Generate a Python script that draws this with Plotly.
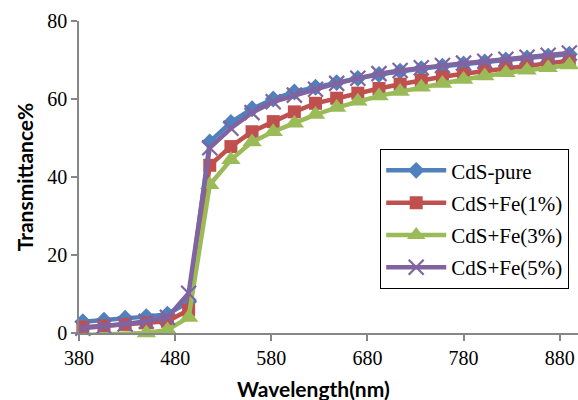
import plotly.graph_objects as go

wavelength = [384, 406, 428, 450, 472, 494, 516, 538, 560, 582, 604, 626,
              648, 670, 692, 714, 736, 758, 780, 802, 824, 846, 868, 890]
cds_pure = [2.9, 3.3, 3.8, 4.2, 4.8, 8.0, 49.0, 54.0, 57.5, 60.0, 61.8, 63.0,
            64.2, 65.3, 66.3, 67.1, 67.8, 68.4, 69.0, 69.5, 70.0, 70.5, 71.0, 71.5]
cds_fe1 = [1.5, 1.8, 2.2, 2.6, 3.0, 5.9, 43.0, 47.8, 51.6, 54.2, 56.7, 58.9,
           60.2, 61.5, 62.7, 63.8, 64.8, 65.7, 66.5, 67.2, 67.9, 68.5, 69.1, 69.8]
cds_fe3 = [-0.5, -0.4, -0.3, 0.0, 0.8, 4.0, 38.0, 44.4, 49.0, 51.6, 53.8, 56.0,
           57.8, 59.4, 60.8, 61.9, 63.0, 64.0, 65.0, 65.9, 66.7, 67.4, 68.0, 68.7]
cds_fe5 = [1.2, 1.7, 2.3, 3.0, 4.0, 10.2, 47.5, 52.5, 56.5, 59.3, 61.0, 62.5,
           64.0, 65.3, 66.5, 67.3, 68.0, 68.6, 69.2, 69.7, 70.2, 70.7, 71.2, 71.8]

series_names = ["CdS-pure", "CdS+Fe(1%)", "CdS+Fe(3%)", "CdS+Fe(5%)"]
x_ticks = [380, 480, 580, 680, 780, 880]
y_ticks = [0, 20, 40, 60, 80]

colors = ["#4F81BD", "#C0504D", "#9BBB59", "#8064A2"]
markers = [
    dict(symbol="diamond", size=13),
    dict(symbol="square", size=13),
    dict(symbol="triangle-up", size=17),
    dict(symbol="x-thin-open", size=15),
]

fig = go.Figure()
for i, (name, ys) in enumerate(zip(series_names, [cds_pure, cds_fe1, cds_fe3, cds_fe5])):
    mk = dict(color=colors[i], **markers[i])
    if markers[i]["symbol"] == "x-thin-open":
        mk["line"] = dict(color=colors[i], width=2.2)
    else:
        mk["line"] = dict(width=0)
    fig.add_trace(go.Scatter(
        x=wavelength, y=ys, name=name, mode="lines+markers",
        line=dict(color=colors[i], width=4.5),
        marker=mk, cliponaxis=False, legendgroup=name,
    ))

axis_font = dict(family="Liberation Serif", size=20, color="black")
fig.update_layout(
    width=578, height=400,
    margin=dict(l=79, r=0, t=21, b=67),
    paper_bgcolor="white", plot_bgcolor="white",
    font=dict(family="Liberation Serif"),
    showlegend=True,
    legend=dict(
        x=0.603, y=0.59, xanchor="left", yanchor="top",
        bordercolor="black", borderwidth=1.3, bgcolor="white",
        font=dict(family="Liberation Serif", size=21, color="black"),
        tracegroupgap=2, itemwidth=60,
    ),
    xaxis=dict(
        range=[380, 899], tickvals=x_ticks, ticktext=[str(v) for v in x_ticks],
        showgrid=False, zeroline=False, showline=True,
        linecolor="#868686", linewidth=1.5,
        ticks="outside", ticklen=6, tickcolor="#868686", tickwidth=1.5,
        tickfont=axis_font,
    ),
    yaxis=dict(
        range=[0, 80], tickvals=y_ticks,
        showgrid=False, zeroline=False, showline=True,
        linecolor="#868686", linewidth=1.5,
        ticks="outside", ticklen=6, tickcolor="#868686", tickwidth=1.5,
        tickfont=axis_font,
        title=dict(text="Transmittance%", standoff=8,
                   font=dict(family="Lato", size=21, color="black", weight="bold")),
    ),
    annotations=[dict(
        text="<b>Wavelength(nm)</b>", xref="paper", yref="paper",
        x=(313 - 79) / 499, y=-(388 - 333) / 312, xanchor="center", yanchor="middle",
        showarrow=False, font=dict(family="Lato", size=21, color="black"),
    )],
)

fig.write_html("out.html")
